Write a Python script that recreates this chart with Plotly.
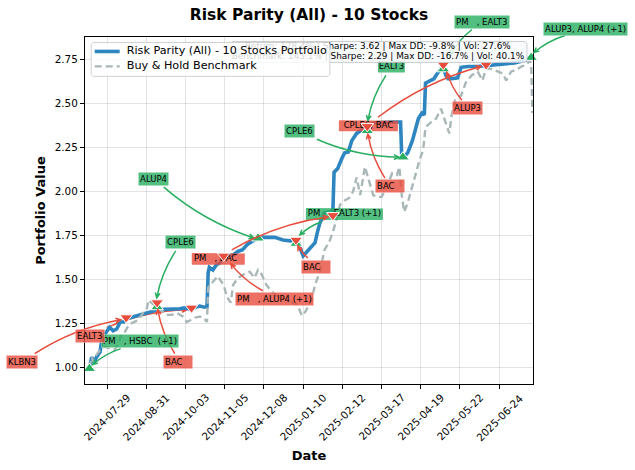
import math
import pandas as pd
import plotly.graph_objects as go

START = pd.Timestamp("2024-07-29")

tick_labels = ["2024-07-29", "2024-08-31", "2024-10-03", "2024-11-05", "2024-12-08", "2025-01-10",
               "2025-02-12", "2025-03-17", "2025-04-19", "2025-05-22", "2025-06-24"]
y_ticks = [1.00, 1.25, 1.50, 1.75, 2.00, 2.25, 2.50, 2.75]

portfolio_days = [-15, -13, -11, -9, -6, -5, -2, 2, 5, 8, 11, 14, 17, 23, 29, 34, 38, 42, 48, 54, 61, 65, 71, 75, 78,
                  81, 84, 85, 86, 89, 92, 95, 97, 101, 106, 110, 114, 118, 124, 131, 137, 141, 148, 154, 158, 161,
                  163, 165, 167, 171, 175, 177, 179, 182, 183, 187, 190, 191, 194, 198, 200, 203, 206, 210, 214,
                  217, 221, 225, 234, 242, 247, 248, 251, 253, 257, 262, 265, 267, 268, 272, 275, 278, 281, 283,
                  285, 287, 290, 295, 298, 304, 312, 319, 326, 335, 343, 352, 357]
portfolio_values = [1.00, 1.06, 1.03, 1.06, 1.09, 1.14, 1.19, 1.23, 1.21, 1.22, 1.26, 1.26, 1.28, 1.29, 1.30, 1.31,
                    1.32, 1.33, 1.33, 1.335, 1.335, 1.34, 1.33, 1.345, 1.35, 1.345, 1.345, 1.54, 1.57, 1.555, 1.585,
                    1.595, 1.63, 1.635, 1.64, 1.66, 1.67, 1.70, 1.725, 1.74, 1.74, 1.74, 1.725, 1.72, 1.725, 1.71,
                    1.67, 1.635, 1.65, 1.68, 1.71, 1.77, 1.82, 1.865, 1.88, 1.885, 1.89, 2.11, 2.13, 2.195, 2.22,
                    2.225, 2.29, 2.33, 2.35, 2.365, 2.38, 2.39, 2.395, 2.395, 2.395, 2.195, 2.205, 2.22, 2.29, 2.415,
                    2.445, 2.435, 2.615, 2.63, 2.64, 2.67, 2.70, 2.715, 2.66, 2.64, 2.64, 2.645, 2.705, 2.71, 2.71,
                    2.715, 2.72, 2.725, 2.73, 2.745, 2.76]

benchmark_days = [-15, -13, -12, -9, -6, -2, 2, 6, 9, 12, 15, 18, 21, 26, 30, 33, 35, 37, 42, 46, 50, 54, 59, 64, 67,
                  70, 74, 78, 81, 84, 85, 88, 93, 96, 98, 101, 104, 106, 110, 115, 120, 124, 127, 130, 134, 139, 145,
                  151, 156, 160, 164, 167, 172, 175, 179, 183, 187, 190, 193, 196, 200, 204, 207, 210, 213, 217, 220,
                  224, 227, 231, 235, 240, 244, 246, 248, 250, 253, 256, 260, 263, 266, 268, 272, 277, 281, 284, 288,
                  290, 293, 298, 302, 307, 312, 316, 319, 324, 329, 333, 336, 340, 344, 349, 353, 356, 357, 358]
benchmark_values = [1.00, 1.06, 1.035, 1.075, 1.10, 1.12, 1.11, 1.10, 1.13, 1.19, 1.205, 1.24, 1.255, 1.27, 1.31, 1.33,
                    1.385, 1.37, 1.345, 1.32, 1.30, 1.30, 1.31, 1.29, 1.26, 1.27, 1.285, 1.29, 1.285, 1.26, 1.455,
                    1.48, 1.52, 1.49, 1.47, 1.40, 1.37, 1.47, 1.51, 1.53, 1.545, 1.51, 1.555, 1.53, 1.47, 1.43, 1.40,
                    1.385, 1.37, 1.36, 1.295, 1.32, 1.385, 1.47, 1.545, 1.67, 1.715, 1.77, 1.84, 1.925, 1.95, 1.965,
                    2.00, 2.08, 1.98, 2.14, 2.07, 1.98, 1.97, 1.97, 2.02, 2.105, 2.095, 2.14, 1.98, 1.885, 1.935, 2.01,
                    2.095, 2.18, 2.235, 2.365, 2.39, 2.415, 2.47, 2.405, 2.33, 2.435, 2.52, 2.545, 2.62, 2.66, 2.68,
                    2.63, 2.70, 2.695, 2.68, 2.67, 2.63, 2.68, 2.69, 2.71, 2.72, 2.745, 2.715, 2.445]

buy_days = [-15, 42, 127, 159, 219, 249, 283, 357]
buy_values = [0.995, 1.345, 1.735, 1.705, 2.345, 2.195, 2.695, 2.76]
sell_days = [16, 42, 71, 98, 159, 190, 219, 283, 319]
sell_values = [1.285, 1.37, 1.34, 1.635, 1.725, 1.865, 2.37, 2.72, 2.72]

stats_lines = ["Return: 178.4% | Sharpe: 3.62 | Max DD: -9.8% | Vol: 27.6%",
               "Benchmark: 145.1% | Sharpe: 2.29 | Max DD: -16.7% | Vol: 40.1%"]
series_names = ["Risk Parity (All) - 10 Stocks Portfolio", "Buy & Hold Benchmark"]

NB = "\u00a0"
# kind, text, label centre (px), connector start (px), connector end (px)
callouts = [
    ("buy", f"PM{NB*3}, HSBC{NB*2}(+1)", (140, 341), (121, 349), (93, 365)),
    ("sell", "KLBN3", (22, 362), (35, 354), (121, 320)),
    ("sell", "EALT3", (90, 336), (107, 328), (187, 310)),
    ("buy", "CPLE6", (181, 242), (176, 251), (157, 298)),
    ("sell", f"BAC{NB*3}", (178, 362), (175, 354), (158, 310)),
    ("sell", f"PM{NB*3}, ALUP4 (+1)", (275, 299), (263, 291), (231, 264)),
    ("buy", "ALUP4", (154, 179), (164, 187), (254, 238)),
    ("sell", f"BAC{NB*3}", (316, 267), (308, 258), (298, 246)),
    ("sell", f"BAC{NB*3}", (390, 186), (385, 178), (368, 134)),
    ("buy", "CPLE6", (300, 131), (317, 139), (399, 157)),
    ("sell", "ALUP3", (468, 108), (462, 100), (447, 72)),
    ("buy", f"PM{NB*3}, EALT3", (482, 21), (472, 29), (450, 55)),
    ("buy", "ALUP3, ALUP4 (+1)", (585, 28), (565, 35), (534, 52)),
]
# These sit underneath a marker or the stats box: kind, text, box (x0, y0, x1, y1), connector start, end
under_marker = [
    ("sell", f"PM{NB*3}, BAC{NB*2}", (192, 253, 245, 265), (232, 250), (328, 217)),
    ("buy", f"PM{NB*3}, EALT3 (+1)", (306, 208, 383, 220), (321, 222), (300, 235)),
    ("sell", "CPLE6, BAC", (339, 120, 398, 131), (378, 117), (481, 66)),
    ("buy", "EALT3", (378, 60, 405, 72), (386, 75), (368, 120)),
]

W, H = 635, 470
L, R, T, B = 85.3, 533.0, 36.5, 384.5
X0, X1 = -18.7, 358.5
Y0, Y1 = 0.908, 2.877
GREEN, RED = "#27ae60", "#e74c3c"
BLUE, GRAY = "#2e86c1", "#aab7b8"
BOX = {"buy": "rgba(39,174,96,0.8)", "sell": "rgba(231,76,60,0.8)"}
LINE = {"buy": GREEN, "sell": RED}
FONT = "DejaVu Sans"
DASH = "7px,4px"


def to_dates(days):
    return [START + pd.Timedelta(days=float(d)) for d in days]


def px_date(px):
    return START + pd.Timedelta(days=X0 + (px - L) / (R - L) * (X1 - X0))


def px_val(py):
    return Y1 - (py - T) / (B - T) * (Y1 - Y0)


def paper(px, py):
    return (px - L) / (R - L), 1 - (py - T) / (B - T)


def connector(kind, s, e, layer="above"):
    rad = 0.1 if kind == "buy" else -0.1
    dx, dy = e[0] - s[0], e[1] - s[1]
    cx, cy = (s[0] + e[0]) / 2 - rad * dy, (s[1] + e[1]) / 2 + rad * dx
    ang = math.atan2(e[1] - cy, e[0] - cx)
    pts = [s, (cx, cy), e]
    for off in (0.45, -0.45):
        pts.append((e[0] - 5.5 * math.cos(ang + off), e[1] - 5.5 * math.sin(ang + off)))
    p = [paper(*q) for q in pts]
    path = (f"M {p[0][0]} {p[0][1]} Q {p[1][0]} {p[1][1]} {p[2][0]} {p[2][1]} "
            f"M {p[3][0]} {p[3][1]} L {p[2][0]} {p[2][1]} L {p[4][0]} {p[4][1]}")
    return dict(type="path", xref="paper", yref="paper", path=path, layer=layer,
                line=dict(color=LINE[kind], width=1.5))


def panel(x0, y0, x1, y1, fill, edge=None, c=2):
    xs = [x0 + c, x1 - c, x1, x1, x1 - c, x0 + c, x0, x0, x0 + c]
    ys = [y0, y0, y0 + c, y1 - c, y1, y1, y1 - c, y0 + c, y0]
    line = dict(color=edge, width=1) if edge else dict(width=0)
    return go.Scatter(x=[px_date(v) for v in xs], y=[px_val(v) for v in ys], mode="lines", fill="toself",
                      fillcolor=fill, line=line, showlegend=False, hoverinfo="skip")


def label(cx, cy, text, size, anchor="middle center"):
    return go.Scatter(x=[px_date(cx)], y=[px_val(cy)], mode="text", text=[text], textposition=anchor,
                      textfont=dict(family=FONT, size=size, color="black"), showlegend=False, hoverinfo="skip")


def swatch(x0, x1, y, color, width, dash=None):
    return go.Scatter(x=[px_date(x0), px_date(x1)], y=[px_val(y), px_val(y)], mode="lines", showlegend=False,
                      hoverinfo="skip", line=dict(color=color, width=width, dash=dash))


fig = go.Figure()
fig.add_trace(go.Scatter(x=to_dates(portfolio_days), y=portfolio_values, mode="lines", name=series_names[0],
                         showlegend=False, line=dict(color=BLUE, width=3.6)))
fig.add_trace(go.Scatter(x=to_dates(benchmark_days), y=benchmark_values, mode="lines", name=series_names[1],
                         showlegend=False, line=dict(color=GRAY, width=2.4, dash=DASH)))

for kind, text, (x0, y0, x1, y1), s, e in under_marker:
    fig.add_trace(panel(x0, y0, x1, y1, BOX[kind], c=0.5))
    fig.add_trace(label((x0 + x1) / 2, (y0 + y1) / 2, text, 8.5))

fig.add_trace(go.Scatter(x=to_dates(buy_days), y=buy_values, mode="markers", showlegend=False, hoverinfo="skip",
                         marker=dict(symbol="triangle-up", size=11, color=GREEN, line=dict(color="white", width=1)),
                         cliponaxis=False))
fig.add_trace(go.Scatter(x=to_dates(sell_days), y=sell_values, mode="markers", showlegend=False, hoverinfo="skip",
                         marker=dict(symbol="triangle-down", size=11, color=RED, line=dict(color="white", width=1)),
                         cliponaxis=False))

# stats box, then the legend on top of it
fig.add_trace(panel(231, 41, 527, 62, "rgba(248,249,250,0.85)", "rgba(190,195,199,0.8)"))
fig.add_trace(label(378, 46.8, stats_lines[0], 8.9))
fig.add_trace(label(378, 56.6, stats_lines[1], 8.9))
fig.add_trace(panel(91.5, 42, 330, 76, "rgba(255,255,255,0.82)", "rgba(204,204,204,0.9)"))
fig.add_trace(swatch(95, 120, 51, BLUE, 3.6))
fig.add_trace(swatch(95, 120, 66, GRAY, 2.4, DASH))
fig.add_trace(label(127, 51, series_names[0], 11.2, "middle right"))
fig.add_trace(label(127, 66, series_names[1], 11.2, "middle right"))

shapes = [connector(c[0], c[3], c[4], "below" if c[1].endswith("EALT3") else "above") for c in callouts]
shapes += [connector(u[0], u[3], u[4]) for u in under_marker]

annotations = []
for kind, text, (cx, cy), s, e in callouts:
    px, py = paper(cx, cy)
    annotations.append(dict(xref="paper", yref="paper", x=px, y=py, text=text, showarrow=False,
                            xanchor="center", yanchor="middle", bgcolor=BOX[kind], borderpad=1.5,
                            bordercolor="rgba(255,255,255,0.5)", borderwidth=0.6,
                            font=dict(family=FONT, size=8.5, color="black")))
for t in tick_labels:
    annotations.append(dict(xref="x", yref="paper", x=t, y=0, yshift=-5, text=t, textangle=-45, showarrow=False,
                            xanchor="center", yanchor="top", font=dict(family=FONT, size=10.4, color="black")))

fig.update_layout(
    width=W, height=H, autosize=False,
    margin=dict(l=L, r=W - R, t=T, b=H - B, pad=0),
    paper_bgcolor="white", plot_bgcolor="white",
    font=dict(family=FONT, color="black"),
    showlegend=False,
    title=dict(text="<b>Risk Parity (All) - 10 Stocks</b>", x=309 / W, xanchor="center", y=1 - 15 / H, yanchor="middle",
               font=dict(family=FONT, size=15.5, color="black")),
    shapes=shapes, annotations=annotations,
    xaxis=dict(type="date", range=[px_date(L), px_date(R)], tickvals=tick_labels, showticklabels=False,
               ticks="outside", ticklen=4, tickcolor="black", tickwidth=1,
               showgrid=True, gridcolor="rgba(0,0,0,0.11)", gridwidth=1, zeroline=False,
               showline=True, linecolor="black", linewidth=1.2, mirror=True,
               title=dict(text="<b>Date</b>", standoff=62, font=dict(family=FONT, size=13, color="black"))),
    yaxis=dict(range=[Y0, Y1], tickvals=y_ticks, ticktext=[f"{v:.2f}" for v in y_ticks],
               ticks="outside", ticklen=4, tickcolor="black", tickwidth=1,
               tickfont=dict(family=FONT, size=10.4, color="black"),
               showgrid=True, gridcolor="rgba(0,0,0,0.11)", gridwidth=1, zeroline=False,
               showline=True, linecolor="black", linewidth=1.2, mirror=True,
               title=dict(text="<b>Portfolio Value</b>", standoff=6, font=dict(family=FONT, size=13, color="black"))),
)
fig.write_html("out.html", config=dict(displayModeBar=False),
               post_script="document.body.style.margin='0';window.dispatchEvent(new Event('resize'));")
